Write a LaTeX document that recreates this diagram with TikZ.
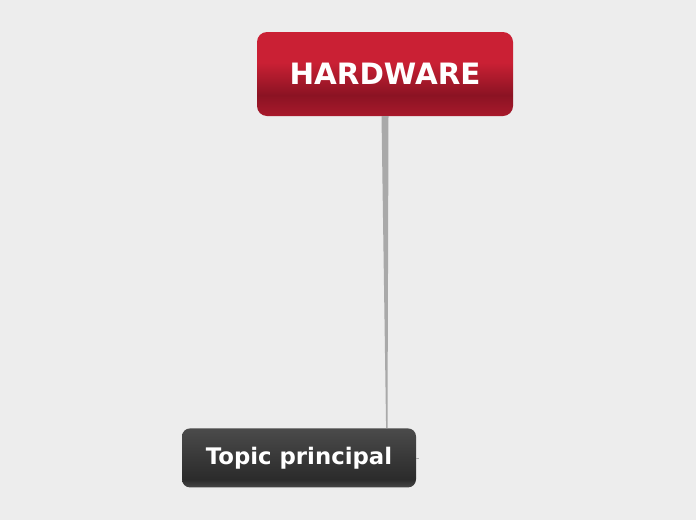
\documentclass[tikz,border=0pt]{standalone}
\usepackage{xcolor}
\usepackage{fontspec}
\setmainfont{DejaVu Sans}
\usepackage{tikz}
\usetikzlibrary{positioning}

\definecolor{sfondo}{HTML}{EDEDED}
\definecolor{ramo}{HTML}{A9A9A9}
\definecolor{rossochiaro}{HTML}{CA2034}
\definecolor{rossoscuro}{HTML}{8B1323}
\definecolor{rossobordo}{HTML}{A8192B}
\definecolor{grigiochiaro}{HTML}{4B4B4B}
\definecolor{grigioscuro}{HTML}{2B2B2B}
\definecolor{grigiobordo}{HTML}{474747}
\pgfdeclareverticalshading{sfumarosso}{100bp}{color(0bp)=(rossobordo); color(25bp)=(rossobordo); color(37.5bp)=(rossoscuro); color(57bp)=(rossochiaro); color(75bp)=(rossochiaro); color(100bp)=(rossochiaro)}
\pgfdeclareverticalshading{sfumagrigio}{100bp}{color(0bp)=(grigiobordo); color(25bp)=(grigiobordo); color(32bp)=(grigioscuro); color(50bp)=(grigioscuro!60!grigiochiaro); color(75bp)=(grigiochiaro); color(100bp)=(grigiochiaro)}

\begin{document}
\begin{tikzpicture}[x=1pt, y=1pt,
    scatola/.style={rectangle, inner sep=0pt, text=white, font=\bfseries}]
        % Sfondo
        \fill[sfondo] (0,0) rectangle (696,-520);
        \useasboundingbox (0,0) rectangle (696,-520);

        % Definisci i nodi
        \node[scatola, shading=sfumarosso, rounded corners=10pt, minimum width=256pt, minimum height=84pt, font=\bfseries\fontsize{29.4}{34}\selectfont] (hw) at (385,-74) {HARDWARE};
        \node[scatola, shading=sfumagrigio, rounded corners=8pt, minimum width=234pt, minimum height=59pt, below=312pt of hw, xshift=-86pt, font=\bfseries\fontsize{22.8}{26}\selectfont] (topic) {Topic principal};
        \coordinate (punta) at (386.8,-428);

        % Disegna il ramo
        \fill[ramo] ([xshift=-3.5pt]hw.south) -- ([xshift=3.5pt]hw.south) -- ([xshift=0.7pt]punta) -- ([xshift=-0.7pt]punta) -- cycle;
        \draw[ramo, line width=0.8pt] (topic.east) -- ++(3pt,0);

    \end{tikzpicture}
\end{document}
